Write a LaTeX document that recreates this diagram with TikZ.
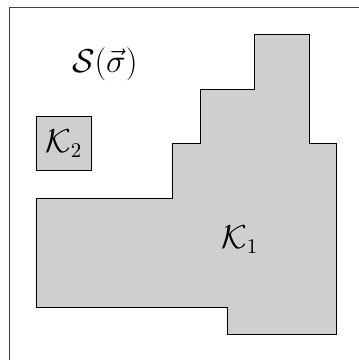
\documentclass[tikz,border=0pt]{standalone}
\begin{document}
\begin{tikzpicture}[line width=0.6pt,every node/.style={font=\fontsize{16}{19}\selectfont},region/.style={draw,fill=black!19}]
\useasboundingbox (-0.673,-0.47) rectangle (5.914,6.137);
\clip (-0.673,-0.47) rectangle (5.914,6.137);
% state space frame
\draw[black!75] (-0.5,-1) rectangle (7,6);
\node (space) at (1.25,4.95) {$\mathcal{S}(\vec{\sigma})$};
% first component
\draw[region] (0,0.5) -- (3.5,0.5) -- (3.5,0) -- (5.5,0) -- (5.5,3.5) -- (5,3.5)
  -- (5,5.5) -- (4,5.5) -- (4,4.5) -- (3,4.5) -- (3,3.5) -- (2.5,3.5)
  -- (2.5,2.5) -- (0,2.5) -- cycle;
\node (k1) at (3.73,1.73) {$\mathcal{K}_1$};
% second component
\draw[region] (0,3) rectangle (1,4);
\node (k2) at (0.5,3.5) {$\mathcal{K}_2$};
\end{tikzpicture}
\end{document}
